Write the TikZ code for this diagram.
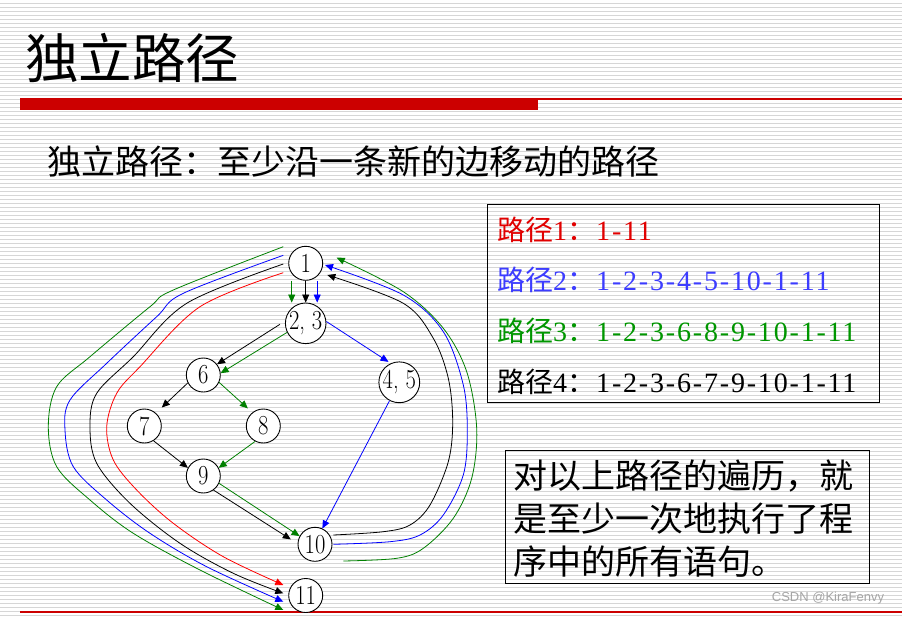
\documentclass[tikz,border=0pt]{standalone}
\usepackage{fontspec}
\setmainfont{Liberation Serif}
\newfontfamily\cjk{Noto Sans CJK SC}
\newfontfamily\digs[LetterSpace=6.5]{Liberation Serif}
\newfontfamily\vfont[FakeStretch=0.82]{Latin Modern Roman}
\newfontfamily\wmfont{Liberation Sans}
\usetikzlibrary{arrows.meta,calc}
\definecolor{barred}{RGB}{204,0,0}
\definecolor{bgline}{RGB}{214,214,214}
\definecolor{txtred}{RGB}{225,0,0}
\definecolor{txtblue}{RGB}{60,60,255}
\definecolor{txtgreen}{RGB}{0,150,0}
\definecolor{pred}{RGB}{255,0,0}
\definecolor{pblue}{RGB}{0,0,255}
\definecolor{pgreen}{RGB}{0,128,0}
\definecolor{wmgray}{RGB}{165,165,165}
\begin{document}
\begin{tikzpicture}[x=1pt,y=-1pt,
  vtx/.style={circle,draw,fill=white,minimum size=34pt,inner sep=0pt,line width=0.9pt,font=\vfont\fontsize{27.5}{27.5}\selectfont},
  arr/.style={line width=0.8pt,-{Triangle[length=8pt,width=7pt]}},
  loop/.style={arr,smooth,tension=0.55},
  pathtxt/.style={anchor=west,inner sep=0pt,font=\fontsize{28}{28}\selectfont},
  boxframe/.style={draw,line width=0.9pt,inner sep=0pt}]
\useasboundingbox (0,0) rectangle (902,616);
\fill[white] (0,0) rectangle (902,616);
\foreach \yy in {3.5,7.5,...,615.5} \draw[bgline,line width=1pt] (0,\yy) -- (902,\yy);

% title and bars
\node[anchor=west,inner sep=0pt,font=\cjk\fontsize{53.5}{53.5}\selectfont] (title) at (25,58) {独立路径};
\fill[barred] (20,98) rectangle (538,110);
\draw[barred,line width=1.2pt] (538,99) -- (902,99);
\draw[barred,line width=1.4pt] (20,612) -- (902,612);

\node[anchor=west,inner sep=0pt,font=\cjk\fontsize{34}{34}\selectfont] (sub) at (47,162) {独立路径：至少沿一条新的边移动的路径};

% path box
\node[boxframe,minimum width=392pt,minimum height=198pt,anchor=north west] (pbox) at (487,204) {};
\node[pathtxt,text=txtred] (p1) at (497,230) {\makebox[99pt][l]{{\cjk 路径}1{\cjk ：}}{\digs 1-11}};
\node[pathtxt,text=txtblue] (p2) at (497,280) {\makebox[99pt][l]{{\cjk 路径}2{\cjk ：}}{\digs 1-2-3-4-5-10-1-11}};
\node[pathtxt,text=txtgreen] (p3) at (497,331) {\makebox[99pt][l]{{\cjk 路径}3{\cjk ：}}{\digs 1-2-3-6-8-9-10-1-11}};
\node[pathtxt,text=black] (p4) at (497,382) {\makebox[99pt][l]{{\cjk 路径}4{\cjk ：}}{\digs 1-2-3-6-7-9-10-1-11}};

% note box
\node[boxframe,minimum width=364pt,minimum height=133pt,anchor=north west] (nbox) at (505,450) {};
\node[anchor=west,align=left,inner sep=0pt,font=\cjk\fontsize{34}{43}\selectfont] (note) at (513,519) {对以上路径的遍历，就\\是至少一次地执行了程\\序中的所有语句。};

\node[inner sep=0pt,font=\wmfont\fontsize{13}{13}\selectfont,text=wmgray] (wm) at (828,598) {CSDN @KiraFenvy};

% vertices
\node[vtx] (n1) at (305.7,263.3) {1};
\node[vtx] (n23) at (305.7,323.3) {2, 3};
\node[vtx] (n6) at (203.3,375) {6};
\node[vtx] (n45) at (399.3,382.3) {4, 5};
\node[vtx] (n7) at (144.3,426) {7};
\node[vtx] (n8) at (263.3,426) {8};
\node[vtx] (n9) at (203.3,476) {9};
\node[vtx] (n10) at (315,544.3) {10};
\node[vtx] (n11) at (305.7,595.5) {11};

% inner edges
\draw[arr,pgreen] ($(n1.south)+(-14,0)$) -- ($(n23.north)+(-14,0)$);
\draw[arr,black] (n1) -- (n23);
\draw[arr,pblue] ($(n1.south)+(11.5,0)$) -- ($(n23.north)+(11.5,0)$);
\draw[arr,black] ($(n23.west)+(-5,1)$) -- (n6.38);
\draw[arr,pgreen] (n23.206) -- (n6.6);
\draw[arr,pblue] (n23.5) -- ($(n45.118)+(-1,-2)$);
\draw[arr,black,shorten >=8pt] (n6.207) -- (n7.48);
\draw[arr,pgreen,shorten >=6pt] (n6.-25) -- (n8.129);
\draw[arr,black] (n7.-58) -- (n9.152);
\draw[arr,pgreen] (n8.242) -- (n9.28);
\draw[arr,black,shorten >=8pt] (n9.-54) -- (n10.178);
\draw[arr,pgreen] (n9.-25) -- (n10.152);
\draw[arr,pblue] (n45.242) -- (n10.65);

% loop end points
\coordinate (gL) at ($(n1)+(-22.4,-16.6)$);
\coordinate (bL) at ($(n1)+(-22.4,-8)$);
\coordinate (kL) at ($(n1)+(-22.4,0.7)$);
\coordinate (rL) at ($(n1)+(-22.4,9.4)$);
\coordinate (rE) at ($(n11)+(-22.4,-10.5)$);
\coordinate (kE) at ($(n11)+(-22.4,-2.2)$);
\coordinate (bE) at ($(n11)+(-22.4,6.2)$);
\coordinate (gE) at ($(n11)+(-22.4,14.5)$);
\coordinate (kS) at ($(n10)+(18.3,-9.3)$);
\coordinate (bS) at ($(n10)+(18.3,0)$);
\coordinate (gS) at ($(n10)+(28.3,16.7)$);
\coordinate (kT) at ($(n1)+(21.6,11.7)$);
\coordinate (bT) at ($(n1)+(19.3,1.7)$);
\coordinate (gT) at ($(n1)+(31,-5.6)$);

% left loops 1 -> 11
\draw[loop,pred] plot coordinates {(rL) (200,306.7) (140,366.7) (116.7,393.3) (106.7,426.7) (113.3,460) (136.7,490) (173.3,523.3) (223.3,556.7) (rE)};
\draw[loop,black] plot coordinates {(kL) (186.7,303.3) (133.3,356.7) (96.7,393.3) (90,426.7) (96.7,463.3) (130,503.3) (180,543.3) (233.3,573.3) (kE)};
\draw[loop,pblue] plot coordinates {(bL) (183.3,293.3) (156.7,316.7) (106.7,363.3) (70,400) (65,430) (73.3,466.7) (106.7,500) (150,533.3) (206.7,566.7) (bE)};
\draw[loop,pgreen] plot coordinates {(gL) (173.3,290) (150,306.7) (90,356.7) (56.7,386.7) (48.3,426.7) (56.7,466.7) (90,500) (133.3,533.3) (200,570) (gE)};

% right loops 10 -> 1
\draw[loop,black] plot coordinates {(kS) (383.3,531.7) (410,525) (430,505) (448.3,461.7) (452.7,421.7) (448.3,378.3) (433.3,338.3) (403.3,303.3) (kT)};
\draw[loop,pblue] plot coordinates {(bS) (390,541.7) (420,535) (443.3,515) (463.3,475) (467.3,431.7) (463.3,385) (443.3,331.7) (403.3,295) (bT)};
\draw[loop,pgreen] plot coordinates {(gS) (396.7,558.3) (423.3,548.3) (453.3,518.3) (471.7,478.3) (476.7,428.3) (466.7,371.7) (443.3,328.3) (403.3,291.7) (gT)};
\end{tikzpicture}
\end{document}
